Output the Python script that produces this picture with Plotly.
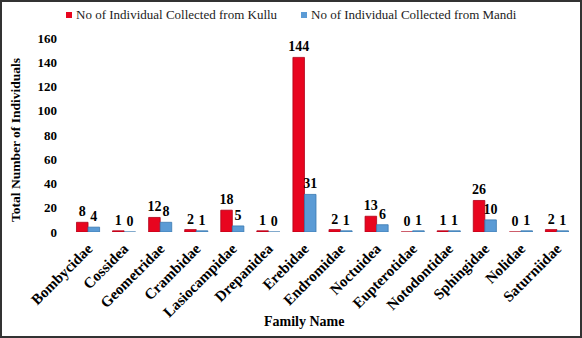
import plotly.graph_objects as go

families = ["Bombycidae", "Cossidea", "Geometridae", "Crambidae", "Lasiocampidae",
            "Drepanidea", "Erebidae", "Endromidae", "Noctuidea", "Eupterotidae",
            "Notodontidae", "Sphingidae", "Nolidae", "Saturniidae"]
kullu = [8, 1, 12, 2, 18, 1, 144, 2, 13, 0, 1, 26, 0, 2]
mandi = [4, 0, 8, 1, 5, 0, 31, 1, 6, 1, 1, 10, 1, 1]
y_ticks = [0, 20, 40, 60, 80, 100, 120, 140, 160]
series_names = ["No of Individual Collected from Kullu",
                "No of Individual Collected from Mandi"]

W, H = 582, 338
ML, MR, MT, MB = 70, 7, 38, 106
PW, PH = W - ML - MR, H - MT - MB

serif = "Liberation Serif, Times New Roman, serif"
red = "#E8051F"
blue = "#5B9BD5"


def px_to_paper_x(px):
    return (px - ML) / PW


def px_to_paper_y(py):
    return (H - MB - py) / PH


fig = go.Figure()
for vals, name, col, edge in [(kullu, series_names[0], red, "#B00018"),
                              (mandi, series_names[1], blue, "#3A78B0")]:
    fig.add_trace(go.Bar(
        x=families, y=vals, name=name,
        marker=dict(color=col, line=dict(color=edge, width=0.8)),
        text=vals, textposition="outside", cliponaxis=False,
        constraintext="none",
        textfont=dict(family=serif, size=14, color="black", weight="bold"),
    ))

# legend drawn as coloured squares plus text
shapes = [dict(type="rect", xref="paper", yref="paper",
               x0=px_to_paper_x(1), x1=px_to_paper_x(W - 1),
               y0=px_to_paper_y(H - 1), y1=px_to_paper_y(1),
               line=dict(color="#333333", width=2))]
annotations = []
for lx, col, name in [(66, red, series_names[0]), (301, blue, series_names[1])]:
    shapes.append(dict(type="rect", xref="paper", yref="paper",
                       x0=px_to_paper_x(lx), x1=px_to_paper_x(lx + 6),
                       y0=px_to_paper_y(18), y1=px_to_paper_y(12),
                       fillcolor=col, line=dict(width=0)))
    annotations.append(dict(text=name, xref="paper", yref="paper",
                            x=px_to_paper_x(lx + 8), y=px_to_paper_y(15),
                            xanchor="left", yanchor="middle", showarrow=False,
                            font=dict(family=serif, size=13, color="#222222")))

annotations += [
    dict(text="<b>Family Name</b>", xref="paper", yref="paper",
         x=px_to_paper_x(304), y=px_to_paper_y(321), showarrow=False,
         xanchor="center", yanchor="middle",
         font=dict(family=serif, size=14, color="black")),
    dict(text="<b>Total Number of Individuals</b>", xref="paper", yref="paper",
         x=px_to_paper_x(15), y=px_to_paper_y(140), showarrow=False,
         textangle=-90, xanchor="center", yanchor="middle",
         font=dict(family=serif, size=13.5, color="black")),
]

fig.update_layout(
    width=W, height=H,
    margin=dict(l=ML, r=MR, t=MT, b=MB, pad=0),
    paper_bgcolor="white", plot_bgcolor="white",
    barmode="group", bargap=0.36, bargroupgap=0.0,
    font=dict(family=serif, size=13, color="black"),
    showlegend=False,
    xaxis=dict(tickangle=-45, showline=False, ticks="", showgrid=False,
               ticklabelstandoff=4,
               tickfont=dict(family=serif, size=15, color="black", weight="bold")),
    yaxis=dict(range=[0, 160], tickvals=y_ticks, showgrid=False, showline=False,
               zeroline=False, ticks="", ticklabelstandoff=12,
               tickfont=dict(family=serif, size=13, color="black", weight="bold")),
    shapes=shapes,
    annotations=annotations,
)

fig.write_html("out.html")
